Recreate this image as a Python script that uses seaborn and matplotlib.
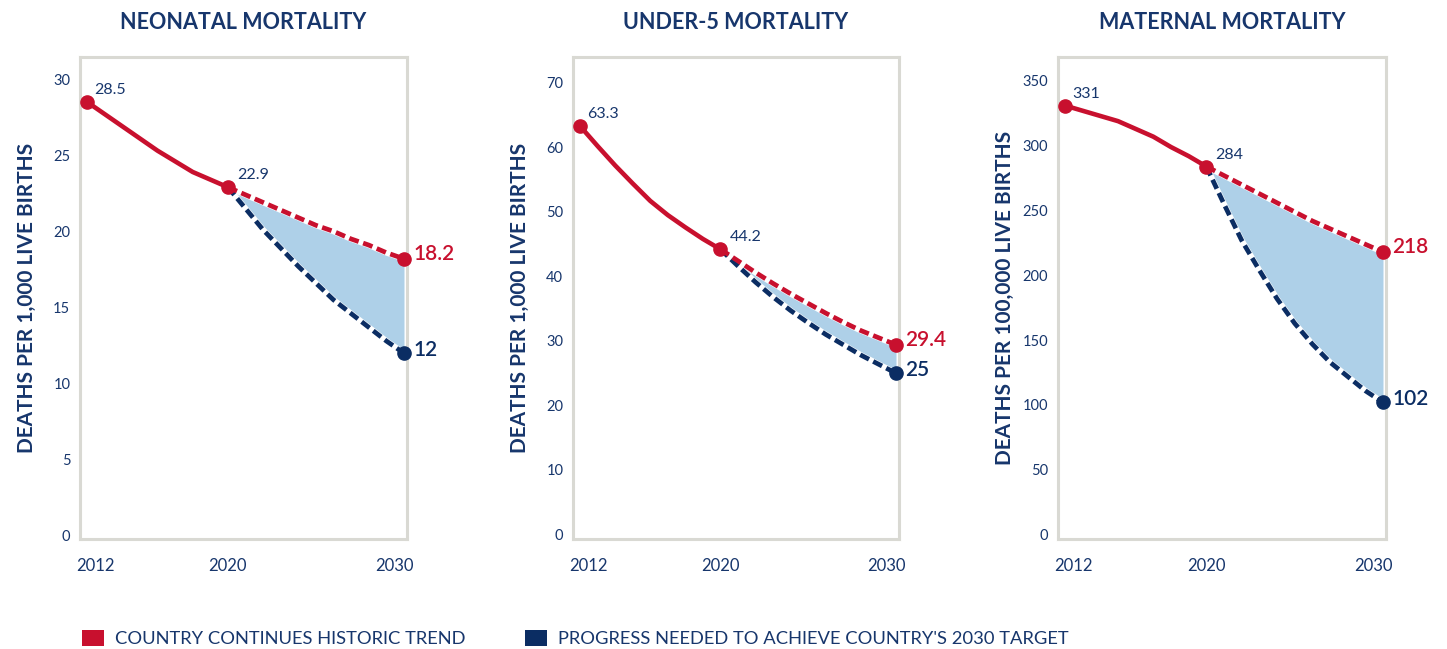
import matplotlib
matplotlib.use("Agg")
import matplotlib.pyplot as plt
import matplotlib.transforms as mtransforms
from matplotlib.patches import Patch
import seaborn as sns
import pandas as pd

# ---- data -------------------------------------------------------------
years_hist = [2012, 2013, 2014, 2015, 2016, 2017, 2018, 2019, 2020]
years_proj = [2020, 2021, 2022, 2023, 2024, 2025, 2026, 2027, 2028, 2029, 2030]

titles = ["NEONATAL MORTALITY", "UNDER-5 MORTALITY", "MATERNAL MORTALITY"]
ylabels = ["DEATHS PER 1,000 LIVE BIRTHS", "DEATHS PER 1,000 LIVE BIRTHS",
           "DEATHS PER 100,000 LIVE BIRTHS"]

neonatal_hist = [28.5, 27.7, 26.9, 26.1, 25.3, 24.6, 23.9, 23.4, 22.9]
neonatal_trend = [22.9, 22.4, 21.9, 21.4, 20.9, 20.4, 20.0, 19.5, 19.1, 18.6, 18.2]
neonatal_target = [22.9, 21.5, 20.1, 18.9, 17.7, 16.6, 15.5, 14.6, 13.7, 12.8, 12.0]

under5_hist = [63.3, 60.2, 57.2, 54.4, 51.7, 49.5, 47.6, 45.8, 44.2]
under5_trend = [44.2, 42.4, 40.6, 38.9, 37.3, 35.8, 34.3, 32.9, 31.6, 30.5, 29.4]
under5_target = [44.2, 41.6, 39.1, 36.8, 34.7, 32.8, 31.0, 29.4, 27.8, 26.4, 25.0]

maternal_hist = [331, 327, 323, 319, 313, 307, 299, 292, 284]
maternal_trend = [284, 277, 270, 263, 256, 249, 242, 236, 230, 224, 218]
maternal_target = [284, 255, 227, 204, 182, 163, 147, 133, 122, 111, 102]

y_ticks = [[0, 5, 10, 15, 20, 25, 30],
           [0, 10, 20, 30, 40, 50, 60, 70],
           [0, 50, 100, 150, 200, 250, 300, 350]]
y_limits = [(-0.2, 31.45), (-0.7, 74.0), (-3.4, 368.5)]
x_ticks = [2012, 2020, 2030]

legend_labels = ["COUNTRY CONTINUES HISTORIC TREND",
                 "PROGRESS NEEDED TO ACHIEVE COUNTRY'S 2030 TARGET"]

# ---- style ------------------------------------------------------------
RED = "#c8102e"
NAVY = "#0b2d63"
TEXT = "#17366c"
FILL = "#aed0e8"
FRAME = "#d9d9d3"

sns.set_theme(style="white")
plt.rcParams["font.family"] = ["Lato", "DejaVu Sans"]

fig = plt.figure(figsize=(14.47, 6.49), dpi=100)
W, H = 1447, 649
lefts = [80, 573, 1058]
widths = [327, 326, 328]
top, bottom = 57, 539

panels = [
    (neonatal_hist, neonatal_trend, neonatal_target),
    (under5_hist, under5_trend, under5_target),
    (maternal_hist, maternal_trend, maternal_target),
]

for i, (hist, trend, target) in enumerate(panels):
    ax = fig.add_axes([lefts[i] / W, (H - bottom) / H, widths[i] / W, (bottom - top) / H])

    df_hist = pd.DataFrame({"year": years_hist, "value": hist})
    df_proj = pd.DataFrame({"year": years_proj, "trend": trend, "target": target})

    ax.fill_between(df_proj["year"], df_proj["trend"], df_proj["target"],
                    color=FILL, linewidth=0, zorder=1)

    sns.lineplot(data=df_hist, x="year", y="value", ax=ax, color=RED,
                 linewidth=3.3, zorder=3, solid_capstyle="round")
    # white underlays so the dash gaps read as white
    for col in ("target", "trend"):
        sns.lineplot(data=df_proj, x="year", y=col, ax=ax, color="white",
                     linewidth=4.2, zorder=2.5)
    sns.lineplot(data=df_proj, x="year", y="target", ax=ax, color=NAVY,
                 linewidth=3.4, linestyle=(0, (2.1, 1.0)), zorder=3)
    sns.lineplot(data=df_proj, x="year", y="trend", ax=ax, color=RED,
                 linewidth=3.4, linestyle=(0, (2.1, 1.0)), zorder=3.2)

    ax.plot([years_hist[0], years_hist[-1], years_proj[-1]],
            [hist[0], hist[-1], trend[-1]], "o", color=RED, markersize=9.5,
            zorder=5, clip_on=False)
    ax.plot([years_proj[-1]], [target[-1]], "o", color=NAVY, markersize=9.5,
            zorder=5, clip_on=False)

    # value labels
    ax.annotate(f"{hist[0]:g}", (years_hist[0], hist[0]), xytext=(7, 12),
                textcoords="offset pixels", ha="left", va="center",
                fontsize=11.5, color=TEXT)
    ax.annotate(f"{hist[-1]:g}", (years_hist[-1], hist[-1]), xytext=(9, 12),
                textcoords="offset pixels", ha="left", va="center",
                fontsize=11.5, color=TEXT)
    ax.annotate(f"{trend[-1]:g}", (years_proj[-1], trend[-1]), xytext=(9, 5),
                textcoords="offset pixels", ha="left", va="center",
                fontsize=15, color=RED, fontweight="semibold",
                annotation_clip=False)
    ax.annotate(f"{target[-1]:g}", (years_proj[-1], target[-1]), xytext=(9, 3),
                textcoords="offset pixels", ha="left", va="center",
                fontsize=15, color=NAVY, fontweight="semibold",
                annotation_clip=False)

    ax.set_xlim(2011.6, 2030.17)
    ax.set_ylim(*y_limits[i])
    ax.set_yticks(y_ticks[i])
    ax.set_xticks(x_ticks)
    ax.set_xticklabels([str(x) for x in x_ticks])
    ax.tick_params(axis="both", length=0, colors=TEXT)
    ax.tick_params(axis="y", labelsize=10.5, pad=7)
    ax.tick_params(axis="x", labelsize=12, pad=14)
    xl = ax.get_xticklabels()
    xl[0].set_transform(xl[0].get_transform() +
                        mtransforms.ScaledTranslation(8 / 100, 0, fig.dpi_scale_trans))
    xl[-1].set_transform(xl[-1].get_transform() +
                         mtransforms.ScaledTranslation(-10 / 100, 0, fig.dpi_scale_trans))

    for sp in ax.spines.values():
        sp.set_visible(True)
        sp.set_color(FRAME)
        sp.set_linewidth(2.2)

    ax.set_xlabel("")
    ax.set_ylabel(ylabels[i], fontsize=15, fontweight="bold", color=TEXT)
    ax.yaxis.set_label_coords(-43 / widths[i], 0.5)
    ax.set_title(titles[i], fontsize=15.5, fontweight="bold", color=TEXT, pad=20)

# legend, one entry per colour
fig.legend(handles=[Patch(facecolor=RED, edgecolor="none")], labels=[legend_labels[0]],
           loc="lower left", bbox_to_anchor=(82 / W, 2 / H), frameon=False,
           fontsize=13.2, handlelength=1.2, handleheight=0.95, handletextpad=0.62,
           borderpad=0, borderaxespad=0, labelcolor=TEXT)
fig.legend(handles=[Patch(facecolor=NAVY, edgecolor="none")], labels=[legend_labels[1]],
           loc="lower left", bbox_to_anchor=(525 / W, 2 / H), frameon=False,
           fontsize=13.2, handlelength=1.2, handleheight=0.95, handletextpad=0.62,
           borderpad=0, borderaxespad=0, labelcolor=TEXT)

fig.savefig("out.png", dpi=100, facecolor="white")
